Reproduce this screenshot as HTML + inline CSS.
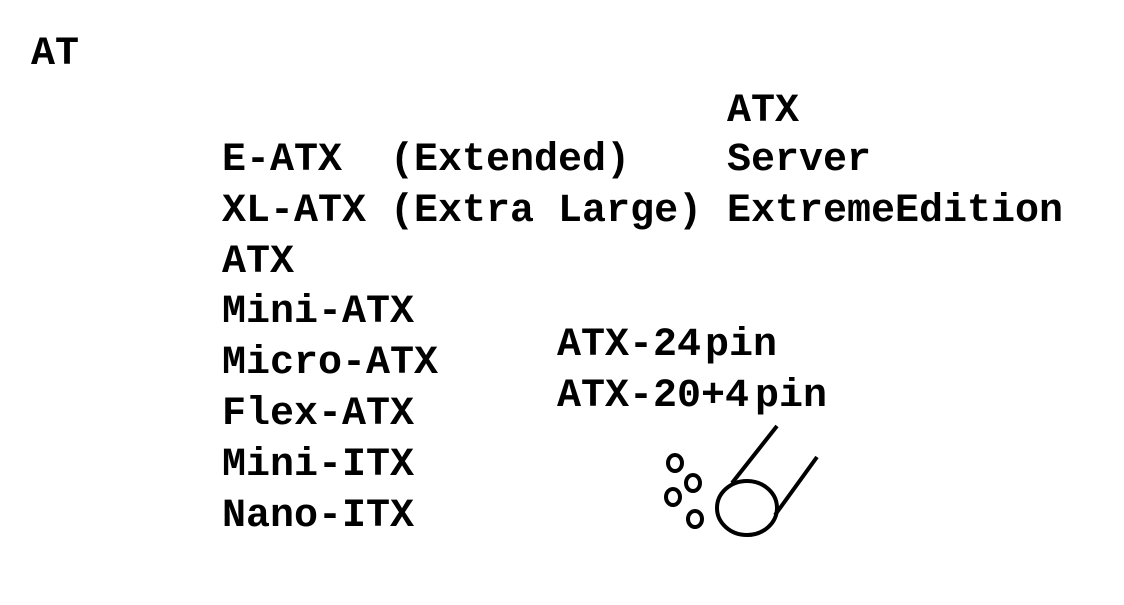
<!DOCTYPE html>
<html><head><meta charset="utf-8"><style>
html,body{margin:0;padding:0;background:#fff;}
svg{display:block}
text{font-family:"Liberation Mono",monospace;font-weight:bold;font-size:40px;fill:#000;}
</style></head><body>
<svg width="1124" height="605" viewBox="0 0 1124 605" xmlns="http://www.w3.org/2000/svg">
<rect width="1124" height="605" fill="#fff"/>
<text x="31" y="64">AT</text>
<text x="727" y="121">ATX</text>
<text x="222" y="170" xml:space="preserve">E-ATX  (Extended)</text>
<text x="727" y="170">Server</text>
<text x="222" y="221" xml:space="preserve">XL-ATX (Extra Large)</text>
<text x="727" y="221">ExtremeEdition</text>
<text x="222" y="272">ATX</text>
<text x="222" y="322">Mini-ATX</text>
<text x="222" y="373">Micro-ATX</text>
<text x="222" y="424">Flex-ATX</text>
<text x="222" y="475">Mini-ITX</text>
<text x="222" y="526">Nano-ITX</text>
<text x="557" y="355">ATX-24</text>
<text x="705" y="355">pin</text>
<text x="557" y="406">ATX-20+4</text>
<text x="755" y="406">pin</text>
<g fill="none" stroke="#000" stroke-width="4">
<ellipse cx="747" cy="508" rx="30" ry="27"/>
<line x1="777" y1="426" x2="732" y2="483"/>
<line x1="817" y1="457" x2="775" y2="515"/>
<ellipse cx="675" cy="463" rx="7" ry="8"/>
<ellipse cx="693" cy="483" rx="7" ry="8"/>
<ellipse cx="673" cy="497" rx="7" ry="8"/>
<ellipse cx="695" cy="519" rx="7" ry="8"/>
</g>
</svg>
</body></html>
